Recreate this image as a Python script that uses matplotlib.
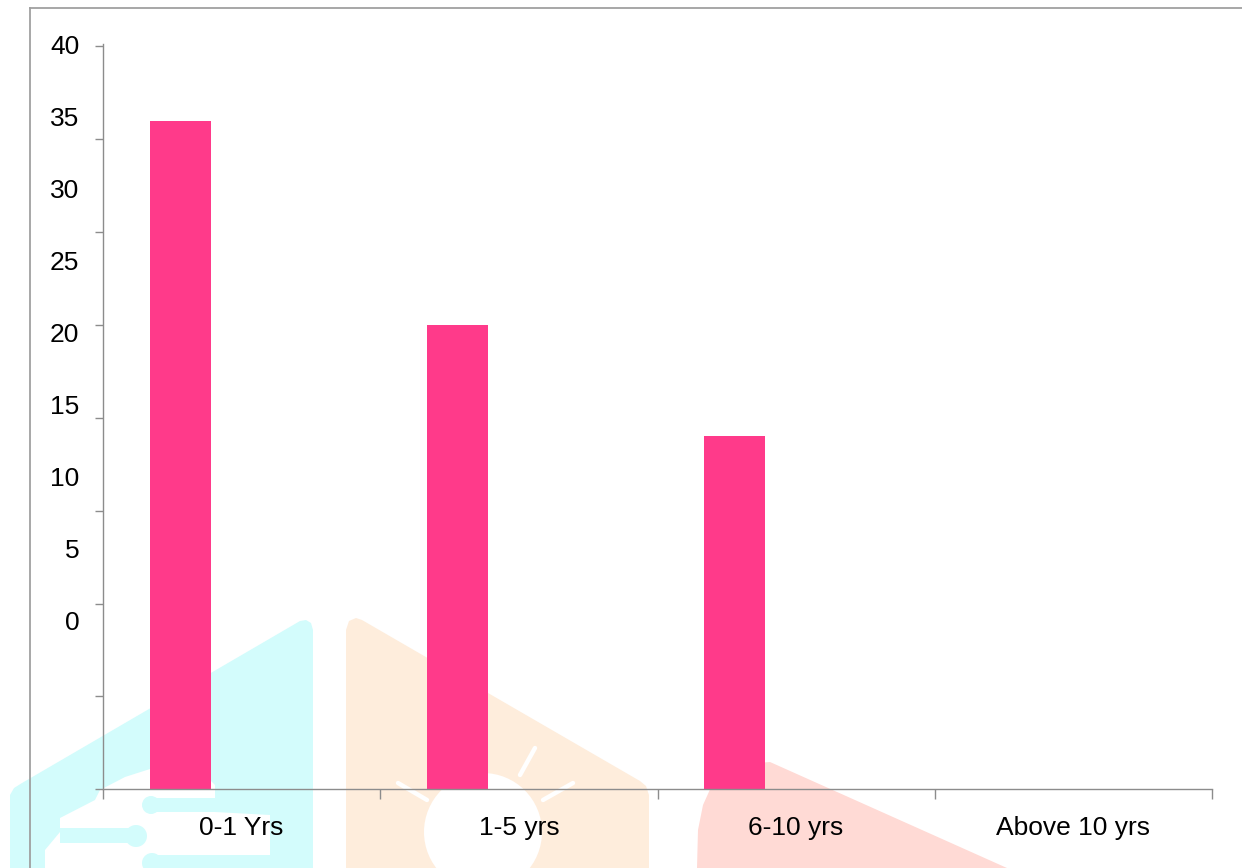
import numpy as np
import matplotlib
matplotlib.use('Agg')
import matplotlib.pyplot as plt
from matplotlib.patches import Polygon, Circle, Rectangle

plt.rcParams['font.family'] = ['Liberation Sans', 'DejaVu Sans']

# DATA
categories = ['0-1 Yrs', '1-5 yrs', '6-10 yrs', 'Above 10 yrs']
values = [36, 25, 19, 0]
y_tick_labels = ['0', '5', '10', '15', '20', '25', '30', '35', '40']

bar_color = '#FF3A8A'
axis_gray = '#8C8C8C'

fig = plt.figure(figsize=(12.42, 8.68), dpi=100)

# background watermark, drawn in pixel space
bg = fig.add_axes([0, 0, 1, 1], zorder=0)
bg.set_xlim(0, 1242)
bg.set_ylim(868, 0)
bg.axis('off')

cyan = '#D3FCFC'
orange = '#FEEDDC'
pink = '#FFDAD5'

bg.add_patch(Polygon([(10, 868), (10, 795), (14, 788), (22, 783), (300, 621), (306, 620),
                      (311, 623), (313, 630), (313, 868)], closed=True, fc=cyan, ec='none'))
bg.add_patch(Polygon([(45, 868), (45, 850), (60, 832), (60, 818), (95, 800), (100, 790),
                      (125, 777), (150, 769), (175, 767), (200, 770), (215, 785), (215, 812),
                      (270, 815), (270, 868)], closed=True, fc='white', ec='none'))
# circuit traces
bg.add_patch(Rectangle((150, 798), 65, 14, fc=cyan, ec='none'))
bg.add_patch(Circle((151, 805), 9, fc=cyan, ec='none'))
bg.add_patch(Rectangle((60, 828), 76, 15, fc=cyan, ec='none'))
bg.add_patch(Circle((136, 836), 11, fc=cyan, ec='none'))
bg.add_patch(Rectangle((152, 855), 118, 13, fc=cyan, ec='none'))
bg.add_patch(Circle((152, 863), 10, fc=cyan, ec='none'))

bg.add_patch(Polygon([(346, 868), (346, 630), (349, 621), (356, 618), (362, 620), (640, 781),
                      (646, 786), (649, 795), (649, 868)], closed=True, fc=orange, ec='none'))
bg.add_patch(Circle((483, 832), 59, fc='white', ec='none'))
for (x0, y0), (x1, y1) in [((520, 775), (535, 748)), ((543, 800), (573, 783)),
                           ((398, 783), (427, 800))]:
    bg.plot([x0, x1], [y0, y1], color='white', lw=3.2, solid_capstyle='round')

bg.add_patch(Polygon([(697, 868), (698, 830), (703, 805), (712, 785), (725, 772), (745, 764),
                      (770, 762), (1007, 868)], closed=True, fc=pink, ec='none'))

# outer frame
bg.plot([30, 30], [868, 8], color='#A0A0A0', lw=1.3)
bg.plot([30, 1242], [8, 8], color='#A0A0A0', lw=1.3)

# main chart
ax_top, ax_bot = 44.0, 789.3
ax = fig.add_axes([103 / 1242, 1 - ax_bot / 868, (1212 - 103) / 1242, (ax_bot - ax_top) / 868], zorder=1)
ax.set_facecolor('none')

x = np.arange(len(categories))
ax.bar(x - 0.221, values, width=0.22, color=bar_color, edgecolor='none')

ax.set_xlim(-0.5, len(categories) - 0.5)
ax.set_ylim(0, 40)

for s in ['top', 'right']:
    ax.spines[s].set_visible(False)
for s in ['left', 'bottom']:
    ax.spines[s].set_color(axis_gray)
    ax.spines[s].set_linewidth(1.0)

# x: boundary ticks, labels centred in the categories
ax.set_xticks(np.arange(len(categories) + 1) - 0.5)
ax.set_xticklabels([])
ax.set_xticks(x, categories, minor=True)
ax.tick_params(axis='x', which='major', direction='out', length=7.2, width=1, color=axis_gray)
ax.tick_params(axis='x', which='minor', length=0, pad=19.5, labelsize=19)

# y: ticks every 5, labels drawn with their odd offset as on the page
ax.set_yticks(np.arange(0, 41, 5))
ax.set_yticklabels([])
px_per_unit = (ax_bot - ax_top) / 40
label_px = 620 - 72.3 * np.arange(len(y_tick_labels))
ax.set_yticks((ax_bot - label_px) / px_per_unit, y_tick_labels, minor=True)
ax.tick_params(axis='y', which='major', direction='out', length=5.8, width=1, color=axis_gray)
ax.tick_params(axis='y', which='minor', length=0, pad=17, labelsize=19)

fig.savefig('out.png', dpi=100)
